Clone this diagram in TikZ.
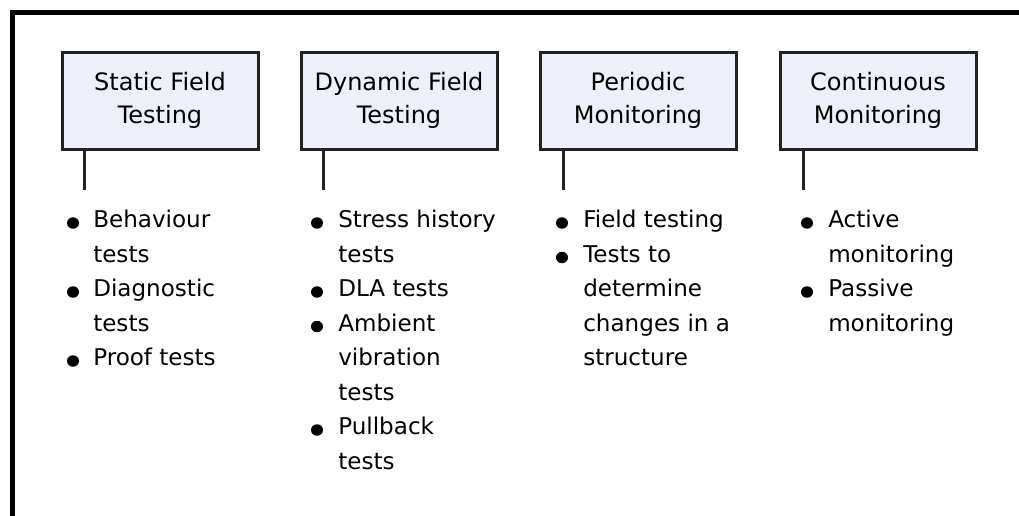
\documentclass[tikz,border=0pt]{standalone}
\usepackage{fontspec}
\setmainfont{DejaVu Sans}
\usetikzlibrary{shapes.geometric}
\definecolor{boxfill}{HTML}{EDF0F9}
\definecolor{boxline}{HTML}{222222}
\newcommand{\itemlines}[1]{\begin{tabular}[t]{@{}l@{}}#1\end{tabular}}
\tikzset{
  head/.style={draw=boxline, line width=2.25pt, fill=boxfill, align=center,
    minimum width=147pt, minimum height=72.75pt, inner sep=0pt,
    font=\fontsize{18}{24.75}\selectfont},
  stem/.style={draw=boxline, line width=2.25pt},
  item/.style={anchor=base west, inner sep=0pt,
    font=\fontsize{17.3}{25.9}\selectfont},
  dot/.style={fill=black, ellipse, minimum width=9pt, minimum height=8.6pt, inner sep=0pt},
}
\begin{document}
\begin{tikzpicture}[x=0.75pt, y=-0.75pt]
	\useasboundingbox (0,0) rectangle (1019,515);
	\draw[line width=3.75pt] (12.5,530) -- (12.5,12.5) -- (1030,12.5);

	% heading boxes
	\node[head] (static) at (160,100.5) {Static Field\\Testing};
	\node[head] (dynamic) at (399,100.5) {Dynamic Field\\Testing};
	\node[head] (periodic) at (638,100.5) {Periodic\\Monitoring};
	\node[head] (continuous) at (878,100.5) {Continuous\\Monitoring};

	\coordinate (static-end) at (84,190);
	\coordinate (dynamic-end) at (323,190);
	\coordinate (periodic-end) at (563,190);
	\coordinate (continuous-end) at (803,190);
	\foreach \n in {static,dynamic,periodic,continuous}
		\draw[stem] (\n.south -| \n-end) -- (\n-end);

	% static field testing
	\node[item] (s1) at (93,227.5) {\itemlines{Behaviour\\tests}};
	\node[item] (s2) at (93,296.5) {\itemlines{Diagnostic\\tests}};
	\node[item] (s3) at (93,365.5) {Proof tests};
	\node[dot] at (73,223) {};
	\node[dot] at (73,292) {};
	\node[dot] at (73,361) {};

	% dynamic field testing
	\node[item] (d1) at (338,227.5) {\itemlines{Stress history\\tests}};
	\node[item] (d2) at (338,296.5) {DLA tests};
	\node[item] (d3) at (338,331) {\itemlines{Ambient\\vibration\\tests}};
	\node[item] (d4) at (338,434.5) {\itemlines{Pullback\\tests}};
	\node[dot] at (317,223) {};
	\node[dot] at (317,292) {};
	\node[dot] at (317,326.5) {};
	\node[dot] at (317,430) {};

	% periodic monitoring
	\node[item] (p1) at (583,227.5) {Field testing};
	\node[item] (p2) at (583,262) {\itemlines{Tests to\\determine\\changes in a\\structure}};
	\node[dot] at (562,223) {};
	\node[dot] at (562,257.5) {};

	% continuous monitoring
	\node[item] (c1) at (828,227.5) {\itemlines{Active\\monitoring}};
	\node[item] (c2) at (828,296.5) {\itemlines{Passive\\monitoring}};
	\node[dot] at (807,223) {};
	\node[dot] at (807,292) {};
\end{tikzpicture}
\end{document}
